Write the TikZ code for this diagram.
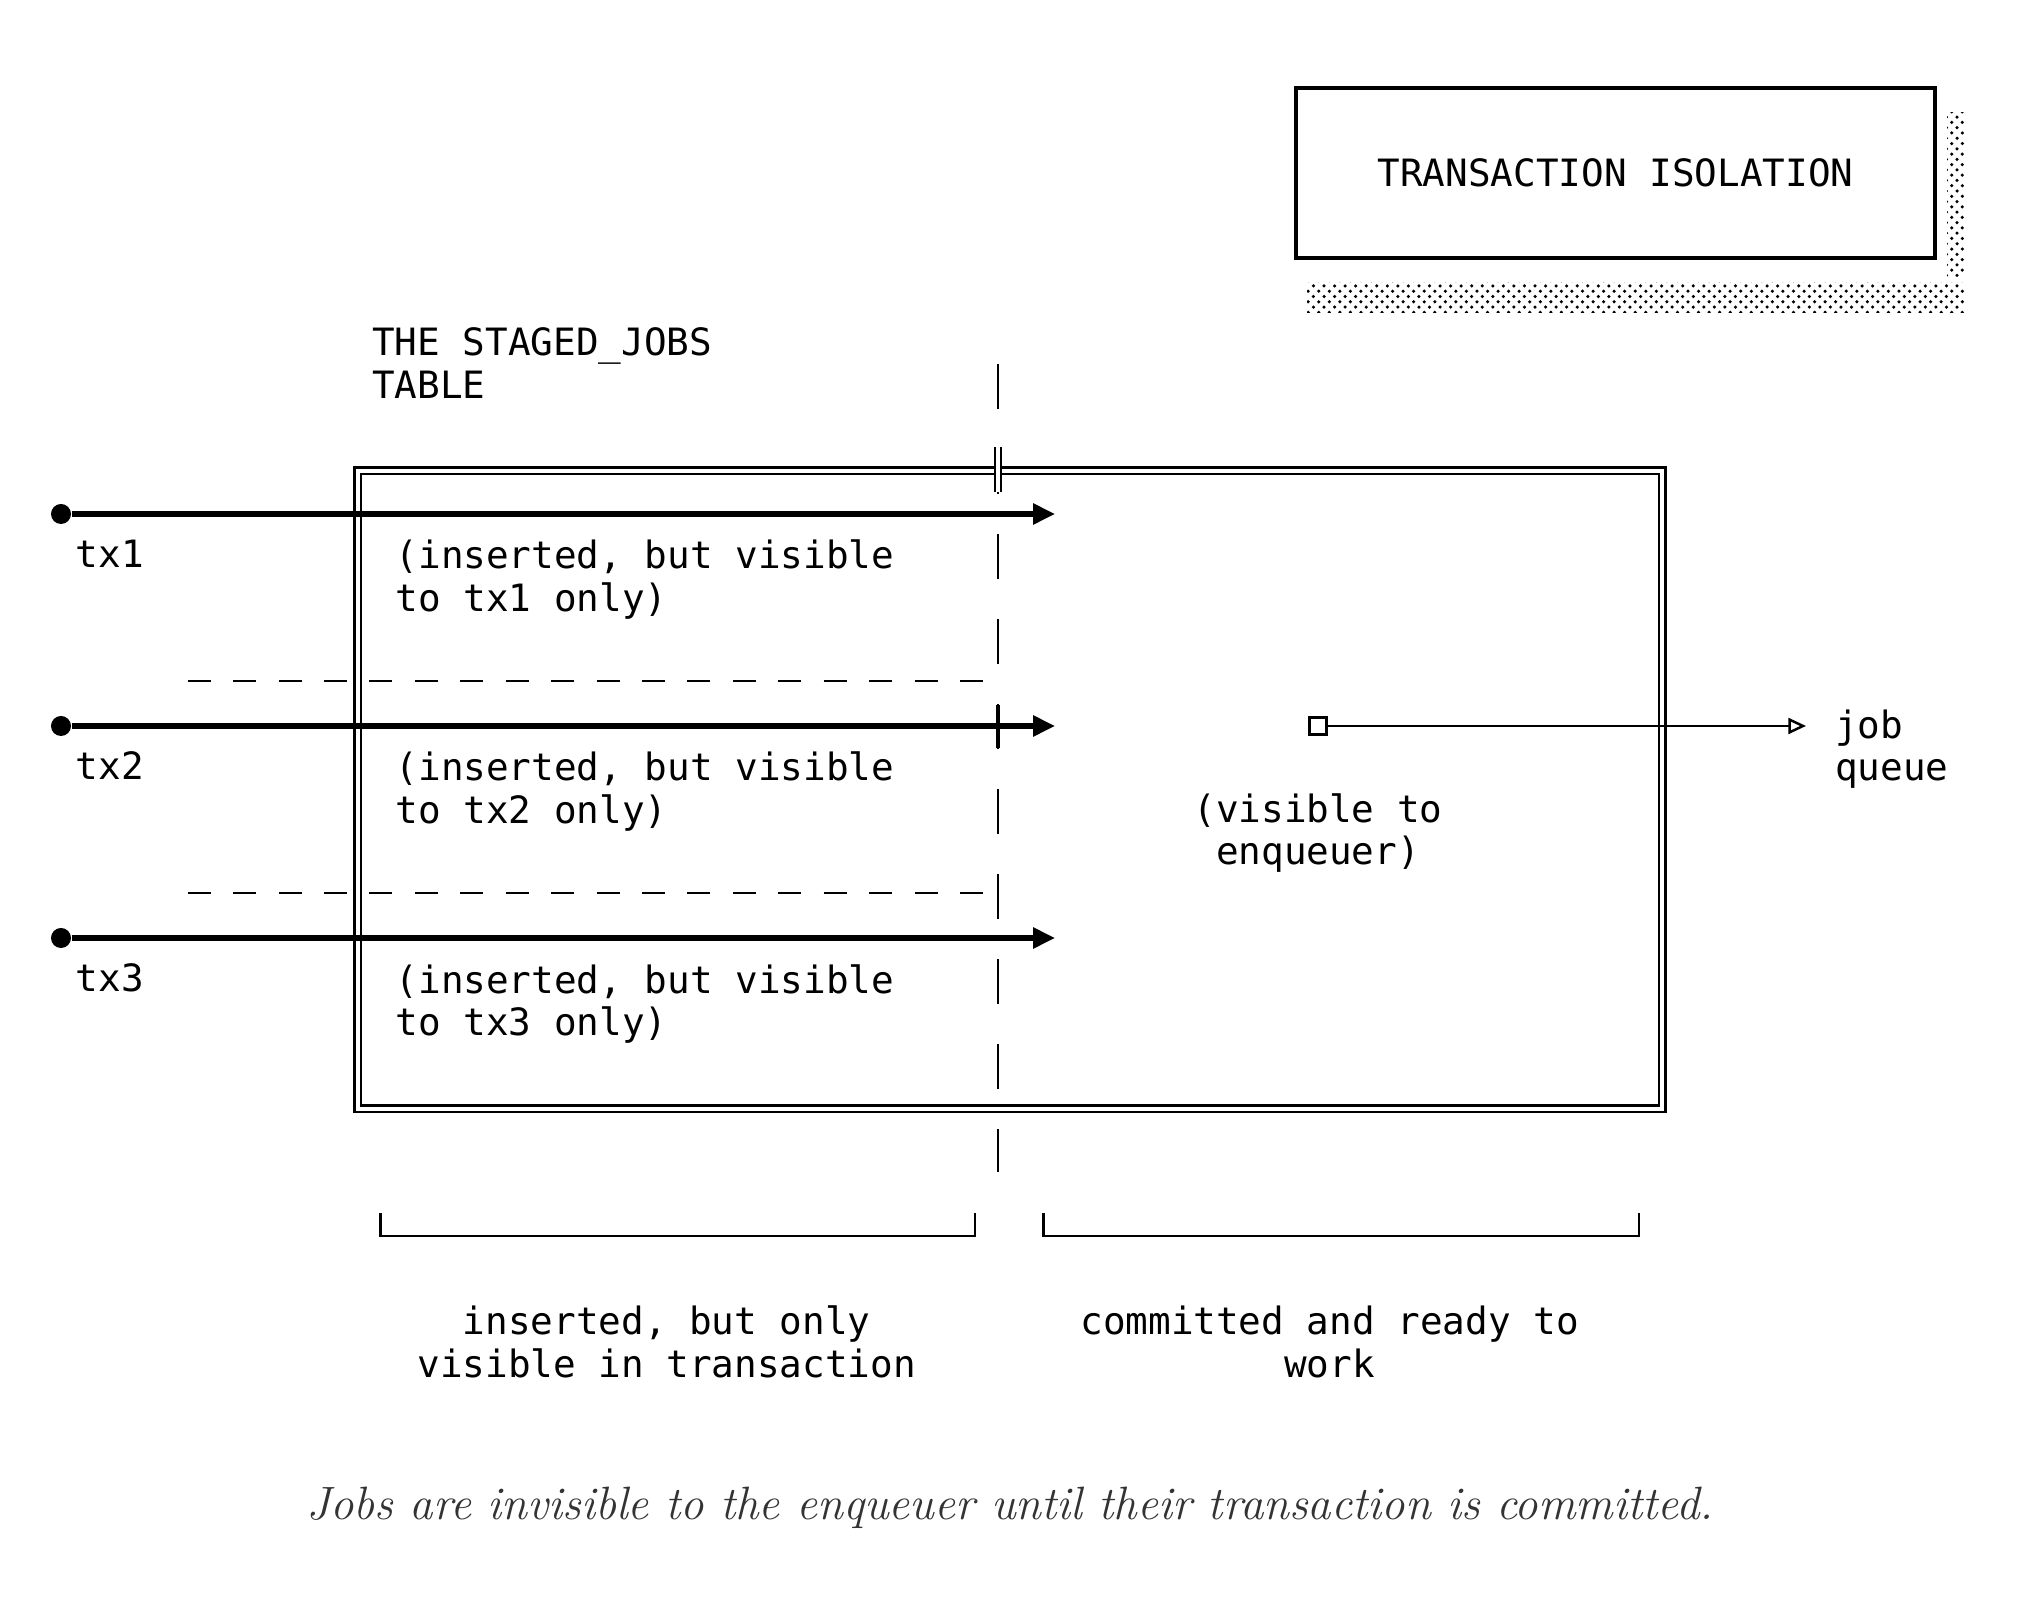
\documentclass[tikz,border=0pt]{standalone}
\usepackage{fontspec}
\setmonofont{DejaVu Sans Mono}
\usepackage{tikz}
\usetikzlibrary{arrows.meta}
\usetikzlibrary{patterns}
\tikzset{ascii/.style={font=\ttfamily\fontsize{10.7}{12.1}\selectfont,inner sep=0pt},
	txt/.style={ascii,anchor=west,align=left},
	titlebox/.style={ascii,draw,line width=1pt,minimum width=6.39cm,minimum height=1.70cm},
	tablebox/.style={draw,double,double distance=1.14pt,line width=0.71pt,inner sep=0pt},
	shadowstrip/.style={pattern=crosshatch dots},
	txdot/.style={circle,fill,inner sep=0pt,minimum size=0.2cm},
	txline/.style={line width=1.45pt,-{Triangle[length=6.2pt,width=5.7pt]}},
	splitline/.style={line width=0.7pt,dash pattern=on 0.23cm off 0.224cm},
	divider/.style={line width=0.75pt,dash pattern=on 0.45cm off 0.40cm},
	bracket/.style={line width=0.7pt}}
\begin{document}
\begin{tikzpicture}[x=0.01cm,y=-0.01cm]
		\useasboundingbox (0,0) rectangle (2030,1610);
		% title with its shadow
		\fill[shadowstrip] (1947,113) rectangle (1965,278);
		\fill[shadowstrip] (1307,283) rectangle (1965,313);
		\node[titlebox] (title) at (1615.5,173) {TRANSACTION ISOLATION};
		% the table
		\node[txt] (staged) at (371.5,363) {THE STAGED\_JOBS\\TABLE};
		\node[tablebox,minimum width=13.04cm,minimum height=6.38cm] (tbl) at (1009.9,789.7) {};
		\coordinate (vtop) at (998,364);
		\coordinate (vbot) at (998,1172);
		\draw[divider] (vtop) -- (vbot);
		\coordinate (xa) at (998,447);
		\coordinate (xb) at (998,492);
		\draw[double,double distance=1pt,line width=0.7pt] (xa) -- (xb);
		\coordinate (xc) at (998,705);
		\coordinate (xd) at (998,748);
		\draw[line width=1.4pt] (xc) -- (xd);
		% transactions
		\begin{scope}[every node/.style={txdot}]
			\node (tx1) at (61,514) {};
			\node (tx2) at (61,726) {};
			\node (tx3) at (61,938) {};
		\end{scope}
		\coordinate (tx1end) at (1055,514);
		\coordinate (tx2end) at (1055,726);
		\coordinate (tx3end) at (1055,938);
		\draw[txline] (tx1) -- (tx1end);
		\draw[txline] (tx2) -- (tx2end);
		\draw[txline] (tx3) -- (tx3end);
		\node[txt] (tx1lbl) at (75,554) {tx1};
		\node[txt] (tx2lbl) at (75,766) {tx2};
		\node[txt] (tx3lbl) at (75,978) {tx3};
		\node[txt] (tx1note) at (395,579.5) {(inserted, but visible\\to tx1 only)};
		\node[txt] (tx2note) at (395,791.5) {(inserted, but visible\\to tx2 only)};
		\node[txt] (tx3note) at (395,1004) {(inserted, but visible\\to tx3 only)};
		\coordinate (s1a) at (187.7,681);
		\coordinate (s1b) at (986.5,681);
		\coordinate (s2a) at (187.7,893);
		\coordinate (s2b) at (991.7,893);
		\draw[splitline] (s1a) -- (s1b);
		\draw[splitline] (s2a) -- (s2b);
		% committed side
		\node[draw,line width=0.6pt,minimum size=0.17cm,inner sep=0pt] (enq) at (1318,726) {};
		\coordinate (jq) at (1806,726);
		\draw[line width=0.7pt,-{Triangle[open,length=5pt,width=4.5pt]}] (enq) -- (jq);
		\node[txt] (queue) at (1834.5,749) {job\\queue};
		\node[ascii,align=center] (visible) at (1318,833) {(visible to\\enqueuer)};
		% brackets below
		\draw[bracket] (380.6,1213) |- (975,1236) -- (975,1213);
		\draw[bracket] (1043.5,1213) |- (1639,1236) -- (1639,1213);
		\node[ascii,align=center] (inslbl) at (666.7,1342) {inserted, but only\\visible in transaction};
		\node[ascii,align=center] (comlbl) at (1329.6,1342) {committed and ready to\\work};
		\node[font=\itshape\fontsize{13.3}{15}\selectfont,text=black!80,inner sep=0pt] (caption) at (1010,1508) {Jobs are invisible to the enqueuer until their transaction is committed.};
	\end{tikzpicture}
\end{document}
